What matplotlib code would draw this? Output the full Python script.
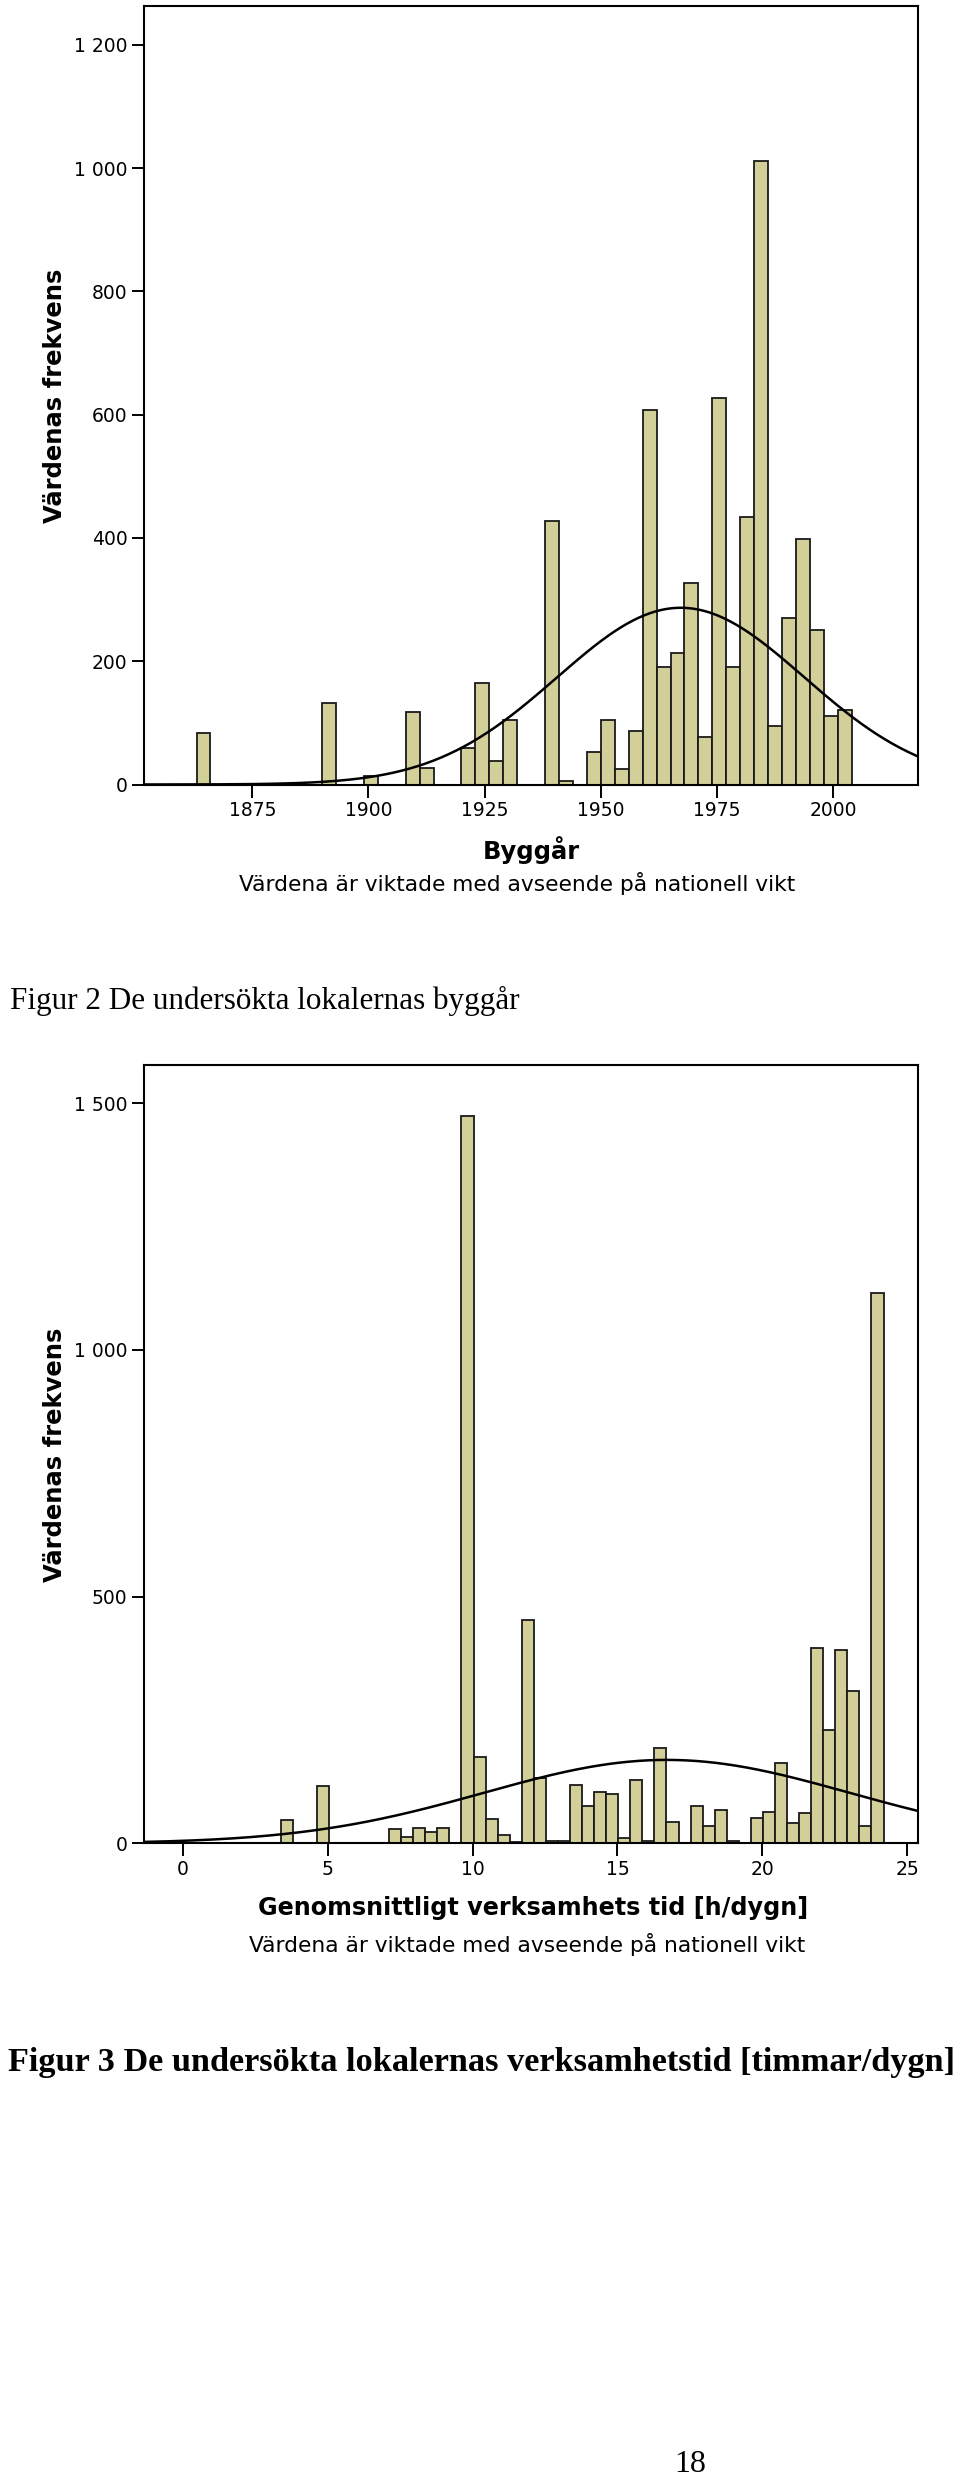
import numpy as np
import matplotlib
matplotlib.use('Agg')
import matplotlib.pyplot as plt
from matplotlib.ticker import FuncFormatter

# figur 2: byggår, 3-årsklasser
year_start = 1863
year_width = 3
year_counts = [83, 0, 0, 0, 0, 0, 0, 0, 0, 133, 0, 0, 14, 0, 0, 118, 26, 0, 0,
               60, 165, 38, 105, 0, 0, 428, 6, 0, 53, 105, 25, 86, 608, 190,
               214, 327, 77, 627, 191, 434, 1012, 95, 270, 399, 251, 111, 121]
year_mean = 1967.2
year_sd = 26.6
year_ticks = [1875, 1900, 1925, 1950, 1975, 2000]
year_yticks = [0, 200, 400, 600, 800, 1000, 1200]

# figur 3: verksamhetstid [h/dygn]
hour_start = 3.38
hour_width = 0.416
hour_counts = [48, 0, 0, 117, 0, 0, 0, 0, 0, 28, 12, 32, 22, 32, 0, 1474, 174,
               49, 16, 2, 453, 132, 5, 5, 118, 76, 103, 99, 11, 128, 4, 193, 44,
               0, 76, 36, 68, 4, 0, 52, 63, 162, 41, 61, 395, 230, 392, 309, 36,
               1115]
hour_mean = 16.7
hour_sd = 6.3
hour_ticks = [0, 5, 10, 15, 20, 25]
hour_yticks = [0, 500, 1000, 1500]

ylabel = 'Värdenas frekvens'
subtitle = 'Värdena är viktade med avseende på nationell vikt'

W, H = 960, 2483
fig = plt.figure(figsize=(W / 100, H / 100), dpi=100)
fig.patch.set_facecolor('white')

bar_color = '#d3cf98'
sans = 'DejaVu Sans'


def px(x, y):
    return x / W, 1 - y / H


def thousands(v, pos):
    return '{:,}'.format(int(v)).replace(',', ' ')


def histogram(rect, start, width, counts, mean, sd, xlim, ylim, xticks, yticks):
    ax = fig.add_axes(rect)
    counts = np.array(counts)
    edges = start + width * np.arange(len(counts))
    ax.bar(edges, counts, width=width, align='edge', color=bar_color,
           edgecolor='#1a1a1a', linewidth=1.3, zorder=2)
    xs = np.linspace(xlim[0], xlim[1], 400)
    n = counts.sum()
    pdf = n * width / (sd * np.sqrt(2 * np.pi)) * np.exp(-0.5 * ((xs - mean) / sd) ** 2)
    ax.plot(xs, pdf, color='black', linewidth=1.8, zorder=3)
    ax.set_xlim(xlim)
    ax.set_ylim(ylim)
    ax.set_xticks(xticks)
    ax.set_yticks(yticks)
    ax.yaxis.set_major_formatter(FuncFormatter(thousands))
    ax.tick_params(direction='out', length=9, width=1.4, labelsize=13.5,
                   colors='black', pad=3)
    for lab in ax.get_xticklabels() + ax.get_yticklabels():
        lab.set_family(sans)
    for s in ax.spines.values():
        s.set_linewidth(1.5)
        s.set_color('black')
    return ax


# figur 2
histogram([144 / W, 1 - 784.5 / H, (918 - 144) / W, 778.5 / H],
          year_start, year_width, year_counts, year_mean, year_sd,
          (1851.7, 2018.25), (0, 1263), year_ticks, year_yticks)
fig.text(*px(55, 396), ylabel, rotation=90, ha='center', va='center',
         fontsize=17.5, fontweight='bold', family=sans)
fig.text(*px(531, 850), 'Byggår', ha='center', va='center',
         fontsize=17.5, fontweight='bold', family=sans)
fig.text(*px(517, 884), subtitle, ha='center', va='center',
         fontsize=15.7, family=sans)
fig.text(*px(10, 1001), 'Figur 2 De undersökta lokalernas byggår',
         ha='left', va='center', fontsize=22.4,
         family='Liberation Serif')

# figur 3
histogram([144 / W, 1 - 1843.3 / H, (918 - 144) / W, (1843.3 - 1065) / H],
          hour_start, hour_width, hour_counts, hour_mean, hour_sd,
          (-1.334, 25.37), (0, 1577.6), hour_ticks, hour_yticks)
fig.text(*px(55, 1455), ylabel, rotation=90, ha='center', va='center',
         fontsize=17.5, fontweight='bold', family=sans)
fig.text(*px(533, 1908), 'Genomsnittligt verksamhets tid [h/dygn]',
         ha='center', va='center', fontsize=17.2, fontweight='bold', family=sans)
fig.text(*px(527, 1944), subtitle, ha='center', va='center',
         fontsize=15.7, family=sans)
fig.text(*px(8, 2062), 'Figur 3 De undersökta lokalernas verksamhetstid [timmar/dygn]',
         ha='left', va='center', fontsize=24.7, fontweight='bold',
         family='Liberation Serif')

fig.text(*px(690, 2465), '18', ha='center', va='center', fontsize=23,
         family='Liberation Serif')

fig.savefig('out.png', dpi=100, facecolor='white')
